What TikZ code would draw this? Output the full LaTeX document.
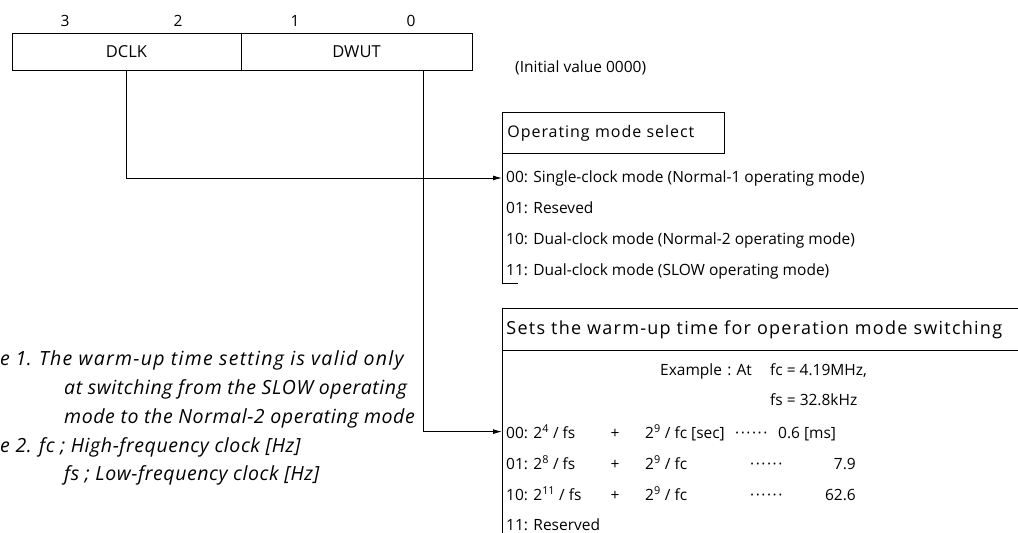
\documentclass[tikz,border=0pt]{standalone}
\usepackage{fontspec}
\setmainfont{Open Sans}
\newfontfamily\hdfont[LetterSpace=7]{Open Sans}
\newfontfamily\hdfontb[LetterSpace=6]{Open Sans}
\newfontfamily\notefont[LetterSpace=3]{Open Sans}
\newfontfamily\notefontw[LetterSpace=6.5]{Open Sans}
\usetikzlibrary{arrows.meta}
\newcommand{\dotrow}{·\kern1.5pt·\kern1.5pt·\kern1.5pt·\kern1.5pt·\kern1.5pt·}
\begin{document}
\begin{tikzpicture}[x=1pt,y=-1pt,
  txt/.style={inner sep=0pt, anchor=base west, font=\fontsize{15.5}{18}\selectfont},
  ctxt/.style={inner sep=0pt, anchor=base, font=\fontsize{15.5}{18}\selectfont},
  rtxt/.style={inner sep=0pt, anchor=base east, font=\fontsize{15.5}{18}\selectfont},
  note/.style={inner sep=0pt, anchor=base west, font=\notefont\fontsize{19.5}{22}\selectfont\itshape},
  notew/.style={inner sep=0pt, anchor=base west, font=\notefontw\fontsize{19.5}{22}\selectfont\itshape},
  box/.style={draw, line width=0.9pt},
  ln/.style={line width=0.9pt},
  arr/.style={line width=0.9pt, -{Latex[length=9pt,width=5pt]}},
]
\path[use as bounding box] (0,0) rectangle (1018,533);
\clip (0,0) rectangle (1018,533);

% register
\node[ctxt] (b3) at (65,26) {3};
\node[ctxt] (b2) at (178,26) {2};
\node[ctxt] (b1) at (295,26) {1};
\node[ctxt] (b0) at (411,26) {0};
\node[box, inner sep=0pt, minimum width=229pt, minimum height=37pt, font=\fontsize{16.5}{18}\selectfont] (dclk) at (126.5,51.5) {DCLK};
\node[box, inner sep=0pt, minimum width=231pt, minimum height=37pt, font=\fontsize{16.5}{18}\selectfont] (dwut) at (356.5,51.5) {DWUT};
\node[txt] (init) at (515,72) {(Initial value 0000)};
\coordinate (dwutx) at (423,0);

% operating mode select
\node[box, anchor=north west, minimum width=222pt, minimum height=41pt, text width=212pt, inner xsep=5pt, inner ysep=0pt, align=left, font=\hdfontb\fontsize{16}{18}\selectfont] (opsel) at (502,112) {Operating mode select};
\node[txt] (op00) at (506,182) {00: Single-clock mode (Normal-1 operating mode)};
\node[txt] (op01) at (506,213) {01: Reseved};
\node[txt] (op10) at (506,244) {10: Dual-clock mode (Normal-2 operating mode)};
\node[txt] (op11) at (506,275) {11: Dual-clock mode (SLOW operating mode)};
\coordinate (opend) at (502,283);
\draw[ln] (opsel.south west) -- (opend) -- ++(16,0);

% warm-up
\node[box, anchor=north west, minimum height=42pt, text width=530pt, inner xsep=4pt, inner ysep=0pt, align=left, font=\hdfont\fontsize{18}{18}\selectfont] (wusel) at (502,308) {Sets the warm-up time for operation mode switching};
\draw[ln] (wusel.south west) -- ++(0,200);
\node[txt] (ex) at (660,375) {Example\,\,:\,\,At};
\node[txt] (exfc) at (770,375) {fc = 4.19MHz,};
\node[txt] (exfs) at (770,405) {fs = 32.8kHz};

\node[txt] (wu00) at (506,438) {00: 2\textsuperscript{4} / fs};
\node[ctxt] (p00) at (615,438) {+};
\node[txt] (f00) at (645,438) {2\textsuperscript{9} / fc [sec]};
\node[txt] (d00) at (735,438) {\dotrow};
\node[txt] (v00) at (778,438) {0.6 [ms]};

\node[txt] (wu01) at (506,469) {01: 2\textsuperscript{8} / fs};
\node[ctxt] (p01) at (615,469) {+};
\node[txt] (f01) at (645,469) {2\textsuperscript{9} / fc};
\node[txt] (d01) at (750,469) {\dotrow};
\node[rtxt] (v01) at (856,469) {7.9};

\node[txt] (wu10) at (506,500) {10: 2\textsuperscript{11} / fs};
\node[ctxt] (p10) at (615,500) {+};
\node[txt] (f10) at (645,500) {2\textsuperscript{9} / fc};
\node[txt] (d10) at (750,500) {\dotrow};
\node[rtxt] (v10) at (856,500) {62.6};

\node[txt] (wu11) at (506,530) {11: Reserved};

% connectors
\draw[arr] (dclk.south) |- (op00.west -| opsel.west);
\draw[arr] (dwut.south -| dwutx) |- (wu00.west -| wusel.west);

% notes
\node[note] (n1a) at (0,365) {e 1.};
\node[notew] (n1b) at (39,365) {The warm-up time setting is valid only};
\node[note] (n1c) at (64,394) {at switching from the SLOW operating};
\node[note] (n1d) at (64,423) {mode to the Normal-2 operating mode};
\node[note] (n2a) at (0,452) {e 2.};
\node[note] (n2b) at (39,452) {fc ; High-frequency clock [Hz]};
\node[note] (n2c) at (64,480) {fs ; Low-frequency clock [Hz]};
\end{tikzpicture}
\end{document}
